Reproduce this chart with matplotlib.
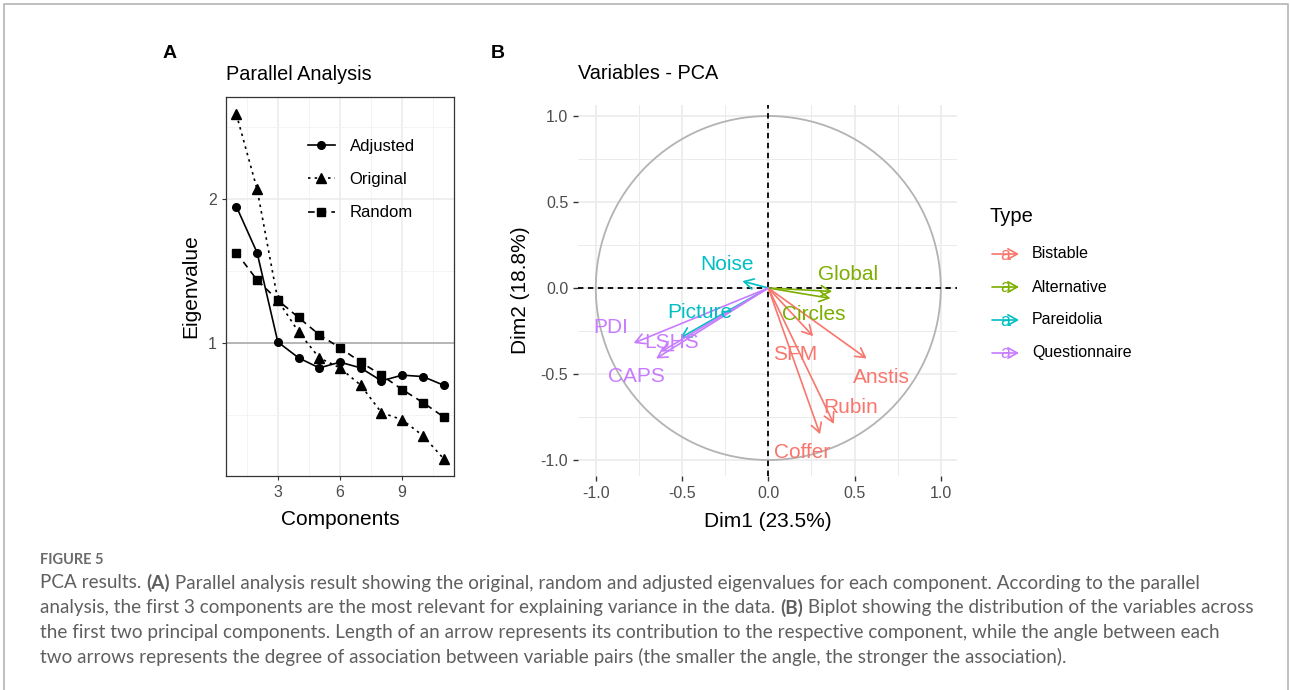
import numpy as np
import matplotlib
matplotlib.use("Agg")
import matplotlib.pyplot as plt
from matplotlib.patches import FancyArrowPatch, Circle

plt.rcParams["font.family"] = ["Liberation Sans", "DejaVu Sans"]
plt.rcParams["axes.unicode_minus"] = False

# ---- panel A: parallel analysis ----
components = list(range(1, 12))
adjusted = [1.95, 1.63, 1.01, 0.90, 0.83, 0.87, 0.83, 0.74, 0.78, 0.77, 0.71]
original = [2.59, 2.07, 1.30, 1.08, 0.90, 0.83, 0.71, 0.52, 0.47, 0.36, 0.20]
random_ev = [1.63, 1.44, 1.30, 1.18, 1.06, 0.97, 0.87, 0.78, 0.68, 0.59, 0.49]

# ---- panel B: PCA variables ----
variables = ["SFM", "Anstis", "Rubin", "Coffer", "Global", "Circles",
             "Noise", "Picture", "PDI", "LSHS", "CAPS"]
var_type = ["Bistable"] * 4 + ["Alternative"] * 2 + ["Pareidolia"] * 2 + ["Questionnaire"] * 3
dim1 = [0.26, 0.57, 0.38, 0.30, 0.37, 0.36, -0.15, -0.51, -0.78, -0.62, -0.65]
dim2 = [-0.28, -0.41, -0.79, -0.85, -0.02, -0.06, 0.04, -0.29, -0.32, -0.37, -0.41]
# repelled label positions as they appear in the figure
label_x = [0.155, 0.657, 0.478, 0.194, 0.464, 0.261, -0.241, -0.396, -0.914, -0.56, -0.763]
label_y = [-0.386, -0.52, -0.696, -0.957, 0.081, -0.154, 0.135, -0.145, -0.228, -0.319, -0.512]
type_order = ["Bistable", "Alternative", "Pareidolia", "Questionnaire"]
type_colors = {"Bistable": "#F8766D", "Alternative": "#7CAE00",
               "Pareidolia": "#00BFC4", "Questionnaire": "#C77CFF"}

caption_lines = [
    ("PCA results. ", "(A)", " Parallel analysis result showing the original, random and adjusted eigenvalues for each component. According to the parallel"),
    ("analysis, the first 3 components are the most relevant for explaining variance in the data. ", "(B)", " Biplot showing the distribution of the variables across"),
    ("the first two principal components. Length of an arrow represents its contribution to the respective component, while the angle between each", None, None),
    ("two arrows represents the degree of association between variable pairs (the smaller the angle, the stronger the association).", None, None),
]

W, H = 1290, 690
fig = plt.figure(figsize=(W / 100, H / 100), dpi=100)
fig.patch.set_facecolor("white")

# overlay in pixel coords for frame, letters, legend B and caption
ov = fig.add_axes([0, 0, 1, 1], zorder=0)
ov.set_xlim(0, W)
ov.set_ylim(H, 0)
ov.axis("off")
ov.plot([4, 4, 1288, 1288], [H, 4, 4, H], color="#b5b5b5", lw=1.2)

TICK_GRAY = "#4D4D4D"

# ---------------- panel A ----------------
axA = fig.add_axes([226 / W, 1 - 476 / H, 228 / W, 379 / H], zorder=2)
axA.set_xlim(0.5, 11.5)
axA.set_ylim(0.08, 2.71)
axA.set_xticks([3, 6, 9])
axA.set_xticks([1.5, 4.5, 7.5, 10.5], minor=True)
axA.set_yticks([1, 2])
axA.set_yticks([0.5, 1.5, 2.5], minor=True)
axA.grid(True, which="major", color="#EBEBEB", lw=1.1)
axA.grid(True, which="minor", color="#F3F3F3", lw=0.6)
axA.set_axisbelow(True)
for s in axA.spines.values():
    s.set_color("#333333")
    s.set_linewidth(0.9)
axA.tick_params(which="major", length=3, width=0.8, color="#333333",
                labelsize=11.5, labelcolor=TICK_GRAY)
axA.tick_params(which="minor", length=0)
axA.axhline(1, color="#A6A6A6", lw=1.1, zorder=1)
axA.plot(components, adjusted, "-", marker="o", color="black", lw=1.2, ms=5.5, label="Adjusted")
axA.plot(components, original, linestyle=(0, (1.5, 2.5)), marker="^", color="black", lw=1.2, ms=7, label="Original")
axA.plot(components, random_ev, linestyle=(0, (4, 3)), marker="s", color="black", lw=1.2, ms=6, label="Random")
axA.legend(loc="upper left", bbox_to_anchor=(0.36, 0.89), frameon=False, fontsize=12,
           borderpad=0, borderaxespad=0, handlelength=1.6, handletextpad=0.9, labelspacing=1.1)
axA.set_xlabel("Components", fontsize=15, labelpad=7)
axA.set_ylabel("Eigenvalue", fontsize=15, labelpad=6)
axA.set_title("Parallel Analysis", loc="left", fontsize=14.3, pad=12)

# ---------------- panel B ----------------
axB = fig.add_axes([578 / W, 1 - 476 / H, 379 / W, 371 / H], zorder=2)
axB.set_xlim(-1.103, 1.094)
axB.set_ylim(-1.093, 1.064)
ticks = [-1.0, -0.5, 0.0, 0.5, 1.0]
axB.set_xticks(ticks)
axB.set_yticks(ticks)
axB.set_xticklabels([f"{t:.1f}" for t in ticks])
axB.set_yticklabels([f"{t:.1f}" for t in ticks])
axB.set_xticks([-0.75, -0.25, 0.25, 0.75], minor=True)
axB.set_yticks([-0.75, -0.25, 0.25, 0.75], minor=True)
axB.grid(True, which="major", color="#EBEBEB", lw=1.2)
axB.grid(True, which="minor", color="#EBEBEB", lw=0.7)
axB.set_axisbelow(True)
for s in axB.spines.values():
    s.set_visible(False)
axB.tick_params(which="major", length=3.5, width=1.0, color="#333333",
                labelsize=11.5, labelcolor=TICK_GRAY)
axB.tick_params(which="minor", length=0)

axB.add_patch(Circle((0, 0), 1.0, fill=False, ec="#B3B3B3", lw=1.3, zorder=1))
axB.axhline(0, color="black", lw=1.3, linestyle=(0, (3, 2.5)), zorder=2)
axB.axvline(0, color="black", lw=1.3, linestyle=(0, (3, 2.5)), zorder=2)

for name, t, x, y, lx, ly in zip(variables, var_type, dim1, dim2, label_x, label_y):
    c = type_colors[t]
    axB.add_patch(FancyArrowPatch((0, 0), (x, y), arrowstyle="->,head_length=0.45,head_width=0.25",
                                  mutation_scale=15, color=c, lw=1.2, shrinkA=0, shrinkB=0, zorder=3))
    axB.text(lx, ly, name, color=c, fontsize=15, ha="center", va="center", zorder=4)

axB.set_xlabel("Dim1 (23.5%)", fontsize=15, labelpad=8)
axB.set_ylabel("Dim2 (18.8%)", fontsize=15, labelpad=8)
axB.set_title("Variables - PCA", loc="left", fontsize=14.3, pad=19)

# legend for panel B
ov.text(990, 217, "Type", fontsize=14.5, ha="left", va="center")
for i, t in enumerate(type_order):
    yk = 254 + i * 33
    c = type_colors[t]
    ov.add_patch(FancyArrowPatch((992, yk), (1019, yk), arrowstyle="->,head_length=0.45,head_width=0.25",
                                 mutation_scale=15, color=c, lw=1.2, shrinkA=0, shrinkB=0))
    ov.text(1005, yk + 1, "a", color=c, fontsize=13, ha="center", va="center")
    ov.text(1032, yk, t, fontsize=11.5, ha="left", va="center")

# panel letters
ov.text(170, 53, "A", fontsize=14, fontweight="bold", ha="center", va="center")
ov.text(498, 53, "B", fontsize=14, fontweight="bold", ha="center", va="center")

# caption
cap_font = ["Lato", "DejaVu Sans"]
CAP_SIZE = 13.6
ov.text(40, 560, "FIGURE 5", fontsize=10.5, color="#6b6b6b", fontweight="bold",
        family=cap_font, ha="left", va="center")
for i, (a, b, c) in enumerate(caption_lines):
    yl = 583 + i * 24.7
    t = ov.text(40, yl, a, fontsize=CAP_SIZE, color="#5f5f5f", family=cap_font, ha="left", va="center")
    if b is not None:
        t2 = ov.annotate(b, xy=(1, 0.5), xycoords=t, fontsize=CAP_SIZE, color="#5f5f5f", fontweight="bold",
                         family=cap_font, ha="left", va="center")
        ov.annotate(c, xy=(1, 0.5), xycoords=t2, fontsize=CAP_SIZE, color="#5f5f5f",
                    family=cap_font, ha="left", va="center")

fig.savefig("out.png", dpi=100)
